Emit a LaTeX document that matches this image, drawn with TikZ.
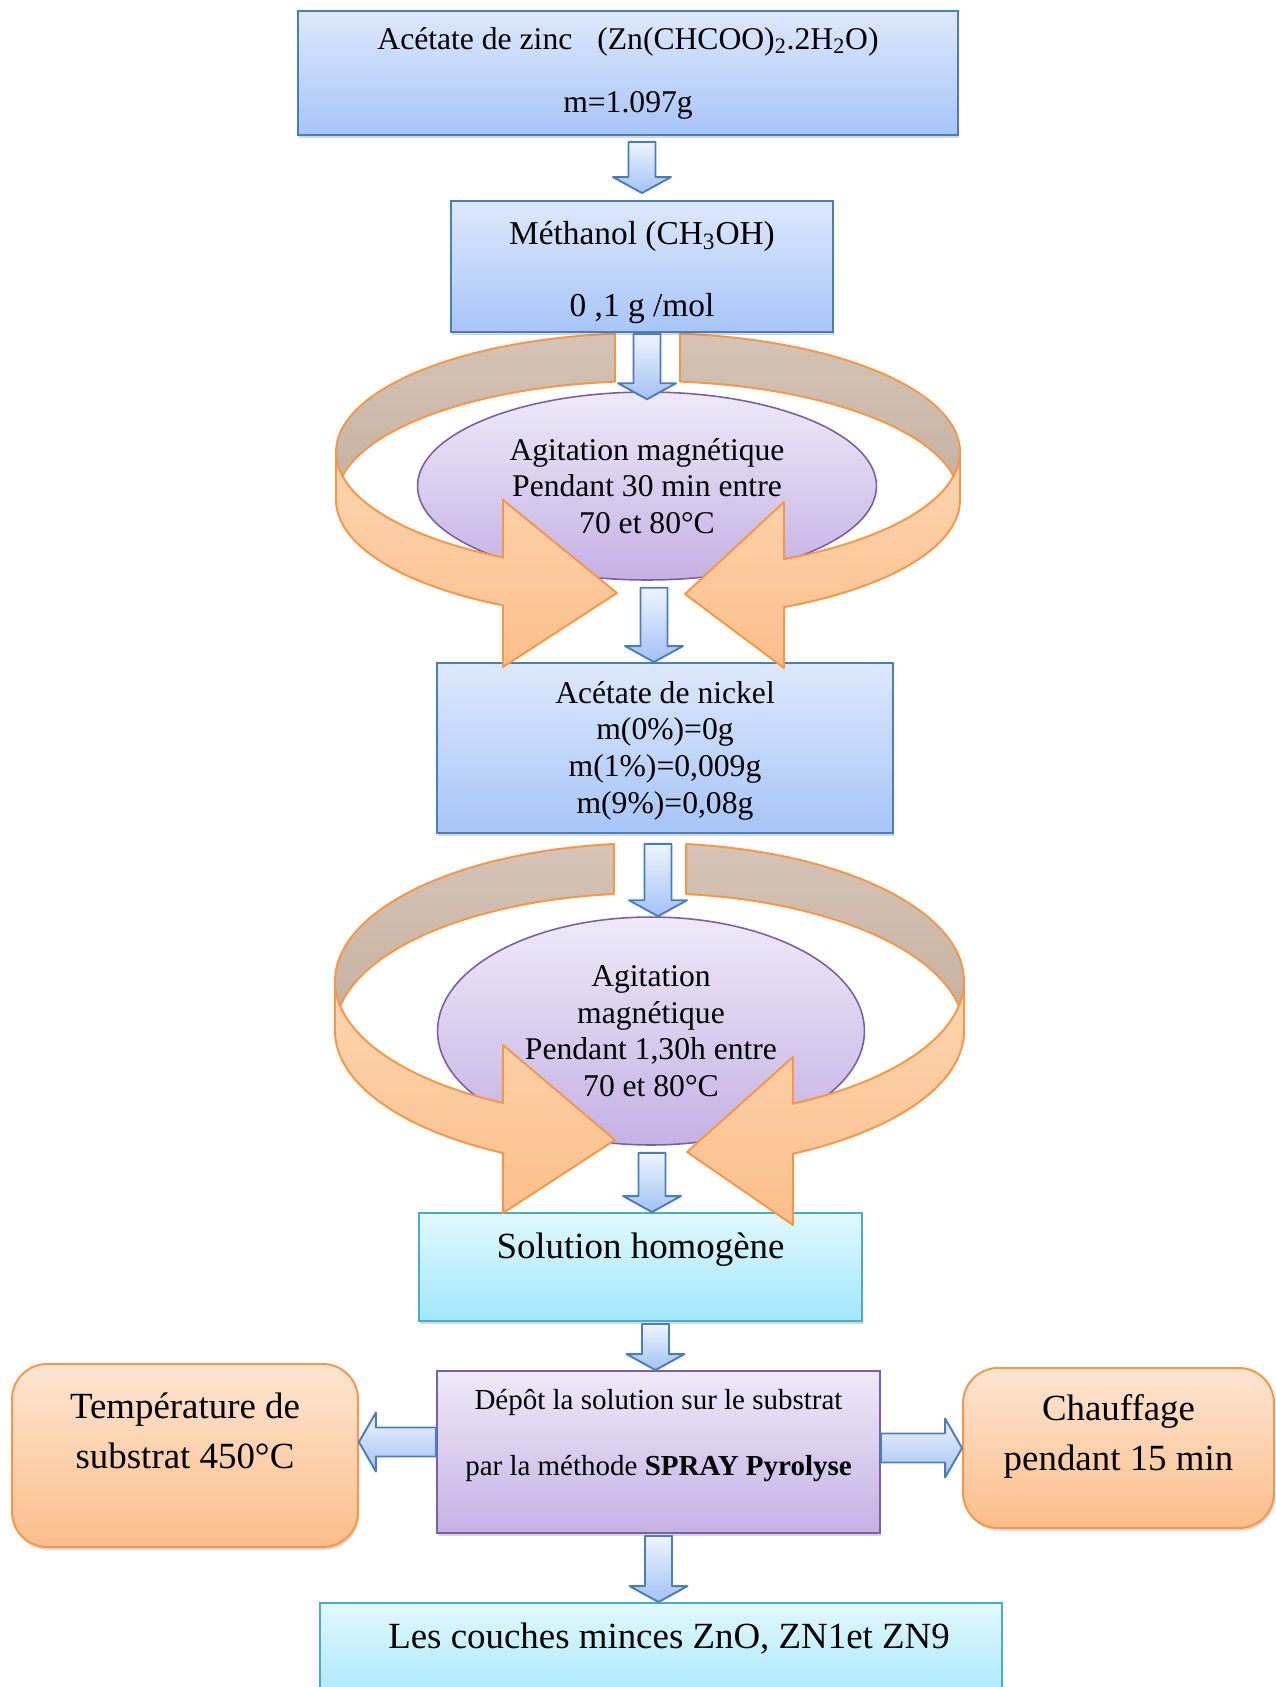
\documentclass[tikz,border=0pt]{standalone}
\usepackage{fontspec}
\setmainfont{Liberation Serif}
\usetikzlibrary{calc,shapes.geometric,shadows}
\definecolor{boxblue}{HTML}{4A7EBB}
\definecolor{bluetop}{HTML}{DDE8FC}
\definecolor{bluebot}{HTML}{A7C5F8}
\definecolor{arrtop}{HTML}{EEF4FE}
\definecolor{arrbot}{HTML}{A3C2F5}
\definecolor{lilac}{HTML}{7B5FA3}
\definecolor{lilactop}{HTML}{EFE9F8}
\definecolor{lilacbot}{HTML}{C5B1E4}
\definecolor{cyanline}{HTML}{4BACC6}
\definecolor{cyantop}{HTML}{E1F8FE}
\definecolor{cyanbot}{HTML}{A2E7FB}
\definecolor{peachline}{HTML}{F79646}
\definecolor{peachtop}{HTML}{FDE5D2}
\definecolor{peachbot}{HTML}{FBBE8A}
\definecolor{ringtop}{HTML}{FDD5B0}
\definecolor{ringbot}{HTML}{FBBF8B}
\definecolor{ringbrown}{HTML}{C6B09F}

\begin{document}
\begin{tikzpicture}[x=0.02cm,y=-0.02cm,
  boxshadow/.style={drop shadow={shadow xshift=0.8pt,shadow yshift=-1.6pt,opacity=0.3}},
  bluebox/.style={draw=boxblue,line width=1.1pt,top color=bluetop,bottom color=bluebot,boxshadow,inner sep=0pt,align=center},
  cyanbox/.style={draw=cyanline,line width=1.1pt,top color=cyantop,bottom color=cyanbot,boxshadow,inner sep=0pt},
  lilacbox/.style={draw=lilac,line width=1.1pt,top color=lilactop,bottom color=lilacbot,boxshadow,inner sep=0pt},
  peachbox/.style={draw=peachline,line width=1.1pt,rounded corners=0.7cm,top color=peachtop,bottom color=peachbot,boxshadow,inner sep=0pt},
  stir/.style={ellipse,draw=lilac,line width=0.9pt,top color=lilactop,bottom color=lilacbot,inner sep=0pt,align=center,font=\fontsize{18}{20.8}\selectfont},
  lbl/.style={align=center,inner sep=0pt},
  ringback/.style={draw=peachline,line width=1.1pt,line join=round,top color=ringbrown!75!white,bottom color=ringbrown},
  ringfront/.style={draw=peachline,line width=1.1pt,line join=round,top color=ringtop,bottom color=ringbot},
  arrbase/.style={draw=boxblue,line width=1.1pt,line join=round,top color=arrtop,bottom color=arrbot},
  dnarrow/.style={arrbase,to path={let \p1=(\tikztostart),\p2=(\tikztotarget) in
    (\x1-0.27cm,\y1) -- (\x1+0.27cm,\y1) -- (\x1+0.27cm,\y2+0.32cm) -- (\x1+0.58cm,\y2+0.32cm)
    -- (\x1,\y2) -- (\x1-0.58cm,\y2+0.32cm) -- (\x1-0.27cm,\y2+0.32cm) -- cycle}},
  lfarrow/.style={arrbase,to path={let \p1=(\tikztostart),\p2=(\tikztotarget) in
    (\x1,\y1-0.29cm) -- (\x2+0.34cm,\y1-0.29cm) -- (\x2+0.34cm,\y1-0.59cm) -- (\x2,\y1)
    -- (\x2+0.34cm,\y1+0.59cm) -- (\x2+0.34cm,\y1+0.29cm) -- (\x1,\y1+0.29cm) -- cycle}},
  rtarrow/.style={arrbase,to path={let \p1=(\tikztostart),\p2=(\tikztotarget) in
    (\x1,\y1-0.29cm) -- (\x2-0.34cm,\y1-0.29cm) -- (\x2-0.34cm,\y1-0.59cm) -- (\x2,\y1)
    -- (\x2-0.34cm,\y1+0.59cm) -- (\x2-0.34cm,\y1+0.29cm) -- (\x1,\y1+0.29cm) -- cycle}}]
  \path[use as bounding box,fill=white] (0,0) rectangle (1275,1687);

  % back of the two stirring rings
  \draw[ringback] plot[domain=96.1:180,samples=40] ({648+312*cos(\x)},{452-119*sin(\x)})
    -- plot[domain=180:96.1,samples=40] ({648+312*cos(\x)},{500-119*sin(\x)}) -- cycle;
  \draw[ringback] plot[domain=84.1:0,samples=40] ({648+312*cos(\x)},{452-119*sin(\x)})
    -- plot[domain=0:84.1,samples=40] ({648+312*cos(\x)},{500-119*sin(\x)}) -- cycle;
  \draw[ringback] plot[domain=96.5:180,samples=40] ({649.5+314.5*cos(\x)},{981-137.9*sin(\x)})
    -- plot[domain=180:96.5,samples=40] ({649.5+314.5*cos(\x)},{1031-137.9*sin(\x)}) -- cycle;
  \draw[ringback] plot[domain=83.3:0,samples=40] ({649.5+314.5*cos(\x)},{981-137.9*sin(\x)})
    -- plot[domain=0:83.3,samples=40] ({649.5+314.5*cos(\x)},{1031-137.9*sin(\x)}) -- cycle;

  % steps
  \node[bluebox,minimum width=13.2cm,minimum height=2.48cm,font=\fontsize{18}{35.9}\selectfont] (zinc) at (628,73)
    {Acétate de zinc\hspace{0.5cm}(Zn(CHCOO)\textsubscript{2}.2H\textsubscript{2}O)\\m=1.097g};
  \node[bluebox,minimum width=7.64cm,minimum height=2.62cm,font=\fontsize{19}{41}\selectfont] (meth) at (642,266.5)
    {\rule{0pt}{20pt}Méthanol (CH\textsubscript{3}OH)\\0 ,1 g /mol};
  \node[stir,minimum width=9.18cm,minimum height=3.76cm] (stir1) at (647,486)
    {Agitation magnétique\\Pendant 30 min entre\\70 et 80°C};
  \node[bluebox,minimum width=9.12cm,minimum height=3.4cm,font=\fontsize{18}{21}\selectfont] (nick) at (665,748)
    {\rule{0pt}{15.7pt}Acétate de nickel\\m(0\%)=0g\\m(1\%)=0,009g\\m(9\%)=0,08g};
  \node[stir,minimum width=8.54cm,minimum height=4.56cm] (stir2) at (651,1031)
    {Agitation\\magnétique\\Pendant 1,30h entre\\70 et 80°C};
  \node[cyanbox,minimum width=8.86cm,minimum height=2.16cm] (sol) at (640.5,1267) {};
  \node[lilacbox,minimum width=8.86cm,minimum height=3.24cm] (dep) at (658.5,1452) {};
  \node[peachbox,minimum width=6.92cm,minimum height=3.66cm] (temp) at (185,1455.5) {};
  \node[peachbox,minimum width=6.22cm,minimum height=3.2cm] (chauf) at (1118.5,1448) {};
  \node[cyanbox,minimum width=13.64cm,minimum height=2.14cm] (couches) at (661,1656.5) {};
  % texts sitting high in their boxes
  \node[lbl,font=\fontsize{21}{25}\selectfont] (solT) at ($(sol.north)+(0,38)$) {Solution homogène};
  \node[lbl,font=\fontsize{16.5}{38}\selectfont] (depT) at ($(dep.north)+(0,65.5)$)
    {Dépôt la solution sur le substrat\\par la méthode \textbf{SPRAY Pyrolyse}};
  \node[lbl,font=\fontsize{21}{28.5}\selectfont] (tempT) at ($(temp.north)+(0,68)$) {Température de\\substrat 450°C};
  \node[lbl,font=\fontsize{21}{28.5}\selectfont] (chaufT) at ($(chauf.north)+(0,69)$) {Chauffage\\pendant 15 min};
  \node[lbl,font=\fontsize{21}{25}\selectfont] (couchesT) at ($(couches.north)+(8,36)$) {Les couches minces ZnO, ZN1et ZN9};

  % front of the rings with their heads
  \draw[ringfront] plot[domain=180:242.3,samples=40] ({648+312*cos(\x)},{452-119*sin(\x)})
    -- (503,500) -- (617,593) -- (503,667)
    -- plot[domain=242.3:180,samples=40] ({648+312*cos(\x)},{500-119*sin(\x)}) -- cycle;
  \draw[ringfront] plot[domain=360:295.85,samples=40] ({648+312*cos(\x)},{452-119*sin(\x)})
    -- (784,502) -- (685,594) -- (784,668)
    -- plot[domain=295.85:360,samples=40] ({648+312*cos(\x)},{500-119*sin(\x)}) -- cycle;
  \draw[ringfront] plot[domain=180:242.2,samples=40] ({649.5+314.5*cos(\x)},{981-137.9*sin(\x)})
    -- (503,1045) -- (615,1140) -- (503,1213)
    -- plot[domain=242.2:180,samples=40] ({649.5+314.5*cos(\x)},{1031-137.9*sin(\x)}) -- cycle;
  \draw[ringfront] plot[domain=360:297.15,samples=40] ({649.5+314.5*cos(\x)},{981-137.9*sin(\x)})
    -- (793,1057) -- (687,1152) -- (793,1225)
    -- plot[domain=297.15:360,samples=40] ({649.5+314.5*cos(\x)},{1031-137.9*sin(\x)}) -- cycle;

  % block arrows
  \draw[dnarrow] ($(meth.north |- zinc.south)+(0,6)$) to ($(meth.north)+(0,-7)$);
  \draw[dnarrow] ($(stir1.north |- meth.south)+(0,1)$) to ($(stir1.north)+(0,8)$);
  \draw[dnarrow] ($(stir1.south)+(7,7)$) to (nick.north);
  \draw[dnarrow] ($(nick.south)+(-7,10)$) to (stir2.north);
  \draw[dnarrow] ($(stir2.south)+(1,7)$) to (sol.north);
  \draw[dnarrow] ($(sol.south)+(15,2)$) to (dep.north);
  \draw[dnarrow] ($(dep.south)+(0,2)$) to (couches.north);
  \draw[lfarrow] ($(dep.west)+(0,-10)$) to (temp.east);
  \draw[rtarrow] ($(dep.east)+(0,-4)$) to (chauf.west);
\end{tikzpicture}
\end{document}
